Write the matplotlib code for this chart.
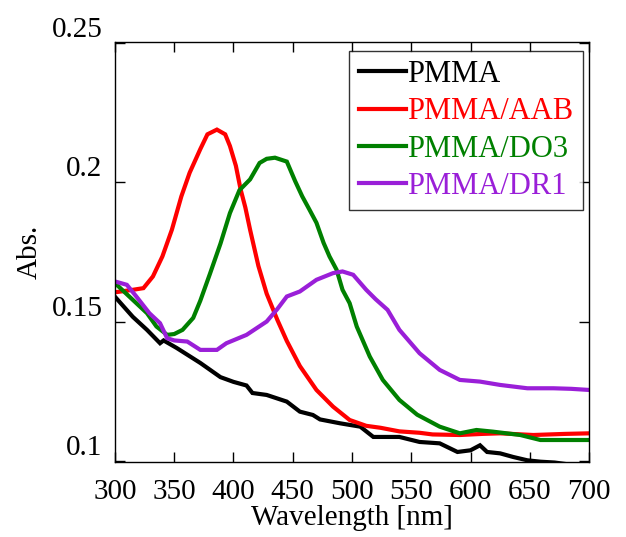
import matplotlib
matplotlib.use("Agg")
from matplotlib import pyplot as plt

plt.rcParams['font.family'] = ['Liberation Serif', 'DejaVu Serif']

# absorbance spectra (wavelength in nm)
wl_pmma = [300, 315, 327, 338, 341, 352, 372, 389, 400, 411, 416, 428, 445, 456, 467,
           473, 490, 507, 518, 540, 557, 574, 589, 600, 608, 614, 625, 636, 648, 659,
           671, 685, 700]
abs_pmma = [0.1589, 0.1517, 0.1470, 0.1422, 0.1432, 0.1405, 0.1351, 0.1300, 0.1283,
            0.1270, 0.1243, 0.1236, 0.1212, 0.1176, 0.1164, 0.1148, 0.1134, 0.1122,
            0.1085, 0.1085, 0.1067, 0.1062, 0.1031, 0.1037, 0.1055, 0.1031, 0.1026,
            0.1013, 0.1001, 0.0996, 0.0993, 0.0985, 0.0978]

wl_aab = [300, 315, 324, 332, 340, 348, 356, 363, 372, 378, 386, 393, 397, 402, 406,
          410, 414, 421, 428, 437, 445, 456, 470, 484, 498, 512, 524, 540, 557, 568,
          591, 610, 625, 653, 680, 700]
abs_aab = [0.1605, 0.1614, 0.1620, 0.1662, 0.1734, 0.1830, 0.1950, 0.2035, 0.2120,
           0.2173, 0.2190, 0.2173, 0.2131, 0.2060, 0.1975, 0.1910, 0.1830, 0.1700,
           0.1600, 0.1506, 0.1430, 0.1340, 0.1254, 0.1194, 0.1146, 0.1125, 0.1118,
           0.1105, 0.1100, 0.1094, 0.1092, 0.1096, 0.1098, 0.1092, 0.1096, 0.1098]

wl_do3 = [300, 315, 327, 335, 344, 350, 357, 366, 372, 380, 389, 397, 405, 414, 422,
          428, 435, 445, 452, 458, 464, 470, 476, 481, 487, 492, 498, 504, 515, 526,
          540, 555, 574, 591, 605, 619, 642, 659, 681, 700]
abs_do3 = [0.1638, 0.1578, 0.1530, 0.1482, 0.1452, 0.1455, 0.1470, 0.1513, 0.1575,
           0.1670, 0.1780, 0.1890, 0.1972, 0.2011, 0.2070, 0.2085, 0.2089, 0.2075,
           0.2005, 0.1950, 0.1903, 0.1855, 0.1783, 0.1734, 0.1686, 0.1614, 0.1566,
           0.1482, 0.1374, 0.1290, 0.1218, 0.1165, 0.1122, 0.1098, 0.1110, 0.1104,
           0.1092, 0.1074, 0.1074, 0.1074]

wl_dr1 = [300, 310, 318, 329, 338, 344, 350, 361, 372, 386, 394, 411, 428, 437, 445,
          456, 470, 484, 492, 501, 512, 520, 530, 540, 557, 574, 591, 608, 625, 648,
          670, 685, 700]
abs_dr1 = [0.1644, 0.1632, 0.1590, 0.1530, 0.1494, 0.1440, 0.1432, 0.1428, 0.1398,
           0.1398, 0.1422, 0.1452, 0.1500, 0.1545, 0.1590, 0.1608, 0.1650, 0.1674,
           0.1680, 0.1668, 0.1614, 0.1580, 0.1542, 0.1470, 0.1386, 0.1326, 0.1290,
           0.1284, 0.1272, 0.1260, 0.1260, 0.1258, 0.1254]

names = ['PMMA', 'PMMA/AAB', 'PMMA/DO3', 'PMMA/DR1']
colors = ['black', '#ff0000', '#008000', '#9a1fd8']

xticks = [300, 350, 400, 450, 500, 550, 600, 650, 700]
yticks = [0.1, 0.15, 0.2, 0.25]
ytick_labels = ['0.1', '0.15', '0.2', '0.25']

fig = plt.figure(figsize=(6.26, 5.37), dpi=100)
ax = fig.add_axes([0.1837, 0.1397, 0.7572, 0.7821])

series = [(wl_pmma, abs_pmma), (wl_aab, abs_aab), (wl_do3, abs_do3), (wl_dr1, abs_dr1)]
for (x, y), name, c in zip(series, names, colors):
    ax.plot(x, y, color=c, lw=3, label=name, solid_joinstyle='miter')

ax.set_xlim(300, 700)
ax.set_ylim(0.0995, 0.2505)
ax.set_xticks(xticks)
ax.set_yticks(yticks)
ax.set_yticklabels(ytick_labels)
for lab in ax.get_yticklabels():
    lab.set_va('bottom')

ax.tick_params(direction='in', top=True, right=True, length=7, width=1,
               labelsize=21)
ax.tick_params(axis='x', pad=12)
ax.tick_params(axis='y', pad=9)
for sp in ax.spines.values():
    sp.set_linewidth(1)

ax.set_xlabel('Wavelength [nm]', fontsize=21, labelpad=0)
ax.set_ylabel('Abs.', fontsize=21, labelpad=6)

leg = ax.legend(loc='upper right', bbox_to_anchor=(0.987, 0.9786), borderaxespad=0,
                fontsize=22, frameon=True, fancybox=False, handlelength=1.55,
                handletextpad=0.05, labelspacing=0.27, borderpad=0.3)
leg.get_frame().set_edgecolor('black')
leg.get_frame().set_linewidth(1)
for txt, c in zip(leg.get_texts(), colors):
    txt.set_color(c)

fig.savefig('out.png', dpi=100)
